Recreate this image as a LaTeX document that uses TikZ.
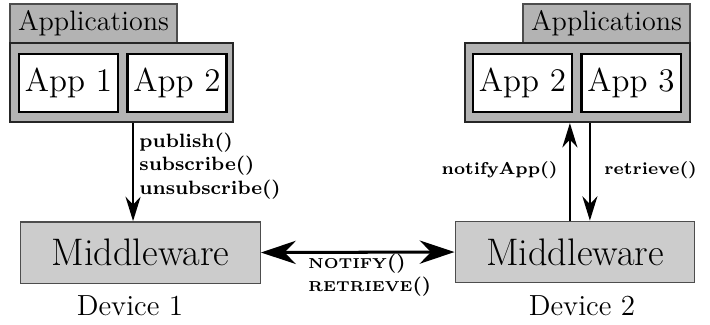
\documentclass[tikz,border=0pt]{standalone}
\usepackage{xcolor}
\usepackage{tikz}
\usetikzlibrary{positioning,arrows.meta,calc}
\definecolor{LabelGray}{HTML}{B3B3B3}
\definecolor{GroupGray}{HTML}{B3B3B3}
\definecolor{MiddleGray}{HTML}{CCCCCC}
\definecolor{EdgeGray}{HTML}{4D4D4D}

\begin{document}
\begin{tikzpicture}[x=0.43pt,y=-0.43pt,
    lab/.style={draw=EdgeGray,fill=LabelGray,line width=0.6pt,inner sep=0pt,
                minimum width=71.8pt,minimum height=16.8pt,font=\fontsize{12.1}{14}\selectfont},
    grp/.style={draw=black!85,fill=GroupGray,line width=0.9pt,inner sep=0pt,
                minimum height=34pt},
    app/.style={draw=black,fill=white,line width=0.9pt,inner sep=0pt,
                minimum width=42.6pt,minimum height=24.9pt,font=\fontsize{14.2}{16}\selectfont},
    mw/.style={draw=EdgeGray,fill=MiddleGray,line width=0.6pt,inner sep=0pt,
               minimum width=103pt,minimum height=26.4pt,font=\fontsize{16.5}{18}\selectfont},
    dev/.style={inner sep=0pt,font=\fontsize{12.5}{14}\selectfont},
    call/.style={inner sep=0pt,align=left,font=\fontsize{8.3}{10}\selectfont\bfseries},
    ar/.style={-{Stealth[length=10.5pt,width=6.5pt]},line width=0.8pt},
    bar/.style={{Stealth[length=15pt,width=10pt]}-{Stealth[length=15pt,width=10pt]},line width=1.3pt}]
  \useasboundingbox (0,0) rectangle (710,324);
  % device 1
  \node[lab] (labL) at (93.5,23.5) {Applications};
  \node[grp,minimum width=95.9pt] (grpL) at (121.5,82.5) {};
  \node[app] (app1L) at (68.5,83) {App 1};
  \node[app] (app2L) at (177,83) {App 2};
  \node[mw] (mwL) at (140.5,252.5) {Middleware};
  \node[dev] (devL) at (130,306) {Device 1};
  % device 2
  \node[lab] (labR) at (606.5,23.5) {Applications};
  \node[grp,minimum width=96.8pt] (grpR) at (577.5,82.5) {};
  \node[app] (app2R) at (522.5,83) {App 2};
  \node[app] (app3R) at (631,83) {App 3};
  \node[mw] (mwR) at (575,252) {Middleware};
  \node[dev] (devR) at (582,306) {Device 2};
  % calls
  \draw[ar] ([xshift=-3.2pt]mwL.north |- grpL.south) -- ([xshift=-3.2pt]mwL.north);
  \node[call,anchor=west] (pubL) at (139,166) {publish()\\subscribe()\\unsubscribe()};
  \draw[ar] ([xshift=-2.2pt]mwR.north) -- ([xshift=-2.2pt]mwR.north |- grpR.south);
  \draw[ar] ([xshift=6.4pt]mwR.north |- grpR.south) -- ([xshift=6.4pt]mwR.north);
  \node[call,anchor=east,font=\fontsize{7.4}{9}\selectfont\bfseries] (notR) at (558,170) {notifyApp()};
  \node[call,anchor=west,font=\fontsize{7.4}{9}\selectfont\bfseries] (retR) at (604,170) {retrieve()};
  \draw[bar] (mwL.east) -- (mwR.west);
  \node[call,anchor=west] (msg) at (308,275)
    {{\fontsize{6.2}{7}\selectfont NOTIFY}()\\{\fontsize{6.2}{7}\selectfont RETRIEVE}()};
\end{tikzpicture}
\end{document}
